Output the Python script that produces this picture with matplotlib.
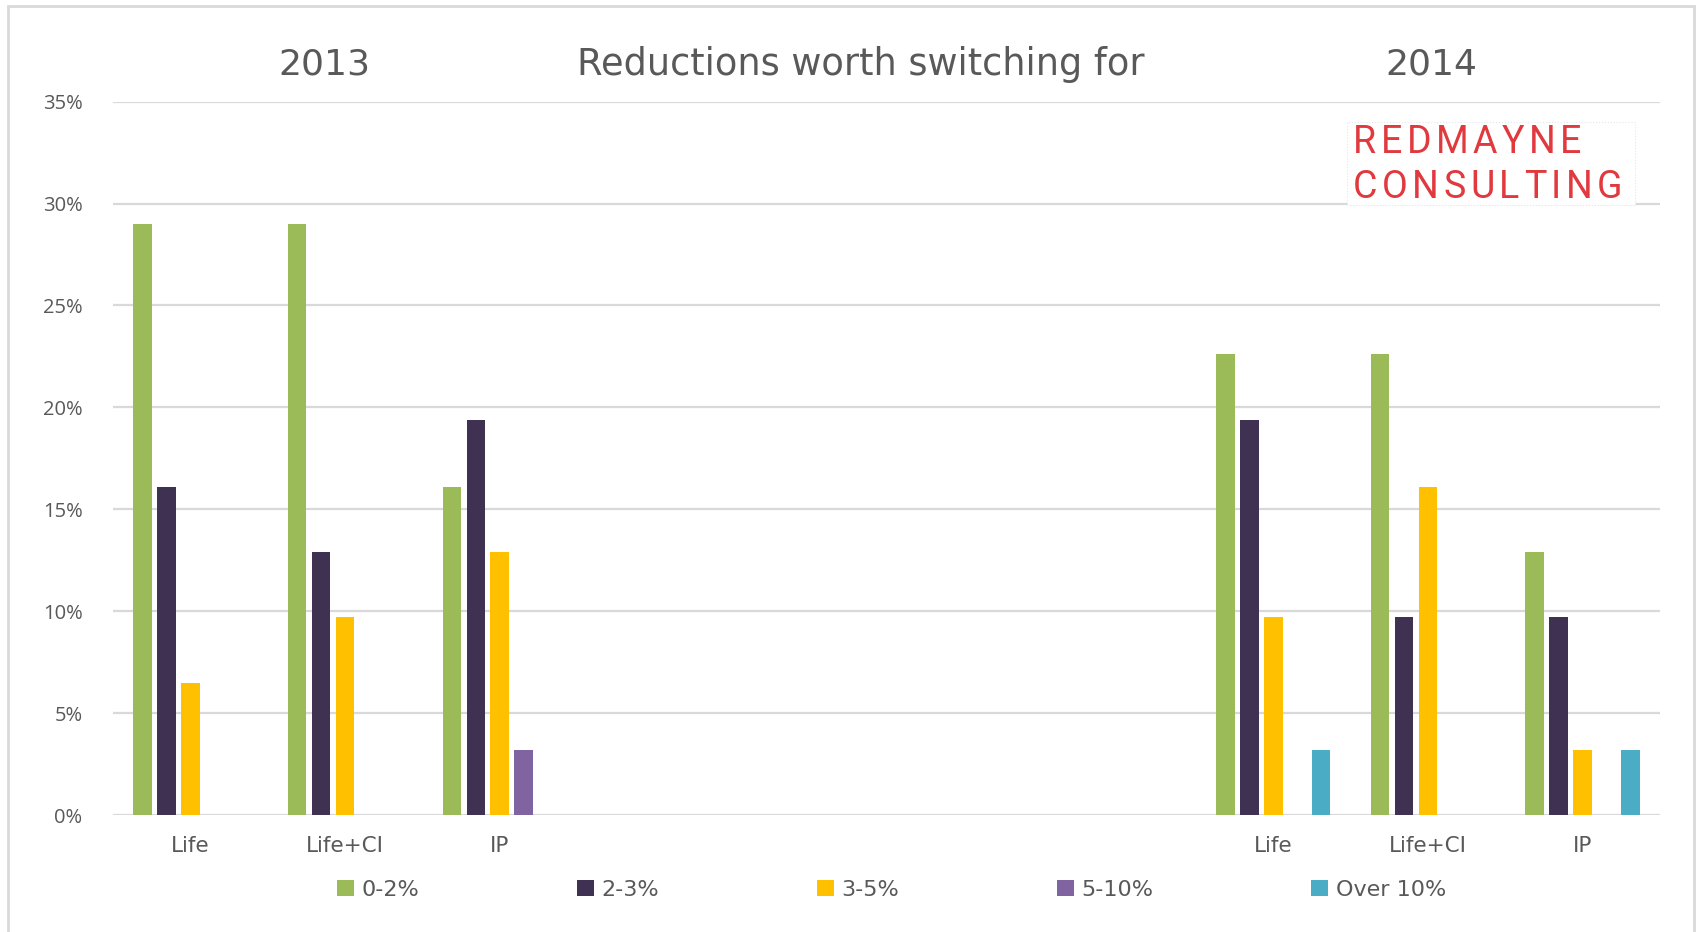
import numpy as np
import matplotlib
matplotlib.use('Agg')
import matplotlib.pyplot as plt
from matplotlib.patches import Rectangle

plt.rcParams['font.family'] = ['Open Sans', 'DejaVu Sans']

# survey answers, share of respondents (%)
categories = ['Life', 'Life+CI', 'IP', '', '', '', '', 'Life', 'Life+CI', 'IP']
series = ['0-2%', '2-3%', '3-5%', '5-10%', 'Over 10%']
pct_0_2 = [29.0, 29.0, 16.1, 0, 0, 0, 0, 22.6, 22.6, 12.9]
pct_2_3 = [16.1, 12.9, 19.4, 0, 0, 0, 0, 19.4, 9.7, 9.7]
pct_3_5 = [6.5, 9.7, 12.9, 0, 0, 0, 0, 9.7, 16.1, 3.2]
pct_5_10 = [0, 0, 3.2, 0, 0, 0, 0, 0, 0, 0]
pct_over_10 = [0, 0, 0, 0, 0, 0, 0, 3.2, 0, 3.2]
colors = ['#9bbb59', '#3f3151', '#ffc000', '#8064a2', '#4bacc6']

grey = '#595959'
wide = ['DejaVu Sans']
fig = plt.figure(figsize=(16.97, 9.32), dpi=100)
ax = fig.add_axes([0.0666, 0.1255, 0.9116, 0.7655])

x = np.arange(len(categories))
step, width = 0.155, 0.12
for i, (name, vals, c) in enumerate(zip(series, [pct_0_2, pct_2_3, pct_3_5, pct_5_10, pct_over_10], colors)):
    ax.bar(x + (i - 2) * step, vals, width, color=c, label=name, zorder=3)

ax.set_xlim(-0.5, len(categories) - 0.5)
ax.set_ylim(0, 35)
ax.set_yticks(range(0, 36, 5))
ax.set_yticklabels([f'{v}%' for v in range(0, 36, 5)])
ax.set_xticks(x)
ax.set_xticklabels(categories, family=wide, fontsize=15.5)
ax.tick_params(axis='both', length=0, colors=grey)
ax.tick_params(axis='y', labelsize=14.5, pad=22)
ax.tick_params(axis='x', pad=15)
for s in ax.spines.values():
    s.set_visible(False)
ax.yaxis.grid(True, color='#d9d9d9', lw=1.6, zorder=0)

fig.text(0.1913, 0.931, '2013', ha='center', va='center', fontsize=26, color=grey, family=wide)
fig.text(0.507, 0.931, 'Reductions worth switching for', ha='center', va='center', fontsize=26.5,
         color=grey, family=wide)
fig.text(0.8437, 0.931, '2014', ha='center', va='center', fontsize=26, color=grey, family=wide)

leg = fig.legend(loc='center', bbox_to_anchor=(0.5255, 0.045), ncol=5, frameon=False,
                 prop={'family': wide, 'size': 16}, handlelength=0.75, handleheight=0.75,
                 handletextpad=0.35, columnspacing=7.1, labelcolor=grey)

# stamp box in the upper right
W, H = 1697, 932
fig.patches.append(Rectangle((1347 / W, 1 - 205 / H), 288 / W, 83 / H, transform=fig.transFigure,
                             facecolor='white', edgecolor='#e6e6e6', lw=0.8, ls=':', zorder=5))
renderer = fig.canvas.get_renderer()


def spaced(x0, y0, s, track):
    xx = x0
    for ch in s:
        t = fig.text(xx, y0, ch, ha='left', va='baseline', fontsize=27, color='#e0393e',
                     family='Roboto', zorder=6)
        bb = t.get_window_extent(renderer)
        xx += (bb.width + track) / W


spaced(1353 / W, 1 - 153 / H, 'REDMAYNE', 4.5)
spaced(1353 / W, 1 - 198 / H, 'CONSULTING', 4.5)

fig.patches.append(Rectangle((8 / W, -0.05), 1686 / W, 1.05 - 6 / H, transform=fig.transFigure,
                             facecolor='none', edgecolor='#d9d9d9', lw=2))

fig.savefig('out.png', dpi=100)
